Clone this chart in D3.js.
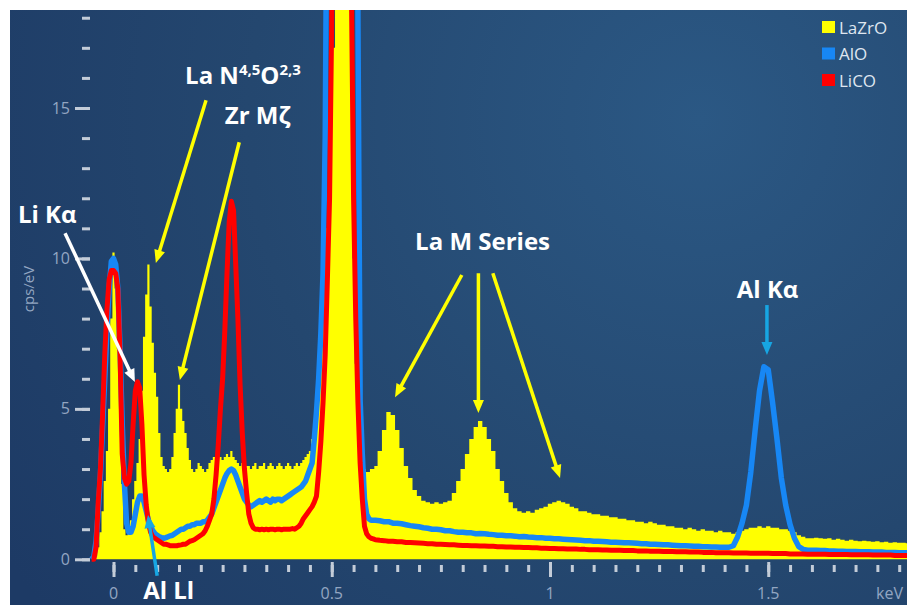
<!DOCTYPE html>
<html><head><meta charset="utf-8">
<script src="https://cdn.jsdelivr.net/npm/d3@7"></script>
<style>html,body{margin:0;padding:0;background:#fff;}svg{display:block;}</style>
</head><body>
<svg id="c" width="907" height="605"></svg>
<script>
// ---------- DATA ----------
// channel energies (keV): fine grid at low energy, coarser above 0.6 keV
const energyLow = d3.range(131).map(i => +(-0.05 + i * 0.005).toFixed(3));
const energyHigh = d3.range(123).map(i => +(0.61 + i * 0.01).toFixed(2));

// LaZrO (yellow, filled) cps/eV
const lazroLow = [
  0, 0, 0.1, 0.4, 0.9, 1.6, 2.6, 3.6, 5.0, 8.0,
  10.2, 9.0, 7.0, 5.0, 2.5, 1.0, 0.8, 0.9, 1.3, 2.0,
  2.6, 3.2, 4.0, 5.6, 7.4, 8.8, 9.8, 8.4, 7.2, 6.2,
  5.4, 4.2, 3.4, 3.1, 3.0, 2.9, 3.0, 3.4, 4.2, 5.0,
  5.8, 5.0, 4.6, 4.2, 3.7, 3.3, 3.0, 2.9, 3.0, 3.2,
  3.1, 3.0, 2.9, 3.0, 3.2, 3.3, 3.4, 3.3, 3.5, 3.4,
  3.3, 3.4, 3.5, 3.4, 3.6, 3.4, 3.3, 3.2, 3.1, 3.2,
  3.0, 3.1, 3.1, 3.0, 3.1, 3.2, 3.0, 3.1, 3.1, 3.2,
  3.0, 3.1, 3.2, 3.1, 3.0, 3.1, 3.2, 3.1, 3.0, 3.1,
  3.2, 3.1, 3.0, 3.1, 3.2, 3.1, 3.2, 3.3, 3.4, 3.5,
  3.6, 4.0, 4.6, 5.4, 6.4, 7.6, 9.0, 10, 11, 13,
  15, 17, 25, 40, 40, 40, 40, 40, 25, 18,
  10, 6.5, 4.8, 3.6, 3.1, 3.0, 2.9, 2.9, 3.0, 3.0,
  3.1
];
const lazroHigh = [
  3.6, 4.3, 4.9, 4.8, 4.3, 3.7, 3.1, 2.7, 2.3, 2.1,
  1.95, 1.9, 1.85, 1.9, 1.85, 1.9, 1.95, 2.2, 2.6, 3.0,
  3.5, 4.0, 4.4, 4.6, 4.4, 4.0, 3.6, 3.0, 2.6, 2.2,
  1.9, 1.7, 1.6, 1.55, 1.6, 1.55, 1.65, 1.7, 1.75, 1.85,
  1.9, 1.95, 1.9, 1.85, 1.75, 1.7, 1.6, 1.6, 1.55, 1.5,
  1.5, 1.45, 1.45, 1.4, 1.4, 1.35, 1.35, 1.3, 1.3, 1.25,
  1.25, 1.2, 1.25, 1.2, 1.15, 1.15, 1.1, 1.1, 1.05, 1.05,
  1.0, 1.05, 1.0, 0.95, 1.0, 0.95, 0.95, 0.9, 0.95, 0.9,
  0.9, 0.85, 0.9, 0.95, 1.0, 1.05, 1.05, 1.1, 1.05, 1.1,
  1.05, 1.05, 1.0, 1.0, 0.95, 0.9, 0.8, 0.75, 0.7, 0.7,
  0.72, 0.7, 0.68, 0.7, 0.65, 0.68, 0.65, 0.62, 0.65, 0.62,
  0.6, 0.62, 0.6, 0.58, 0.6, 0.57, 0.58, 0.55, 0.57, 0.55,
  0.55, 0.53, 0.55
];

// AlO (blue line)
const aloLow = [
  0, 0.1, 0.6, 1.6, 2.8, 4.4, 6.0, 7.6, 9.0, 9.9,
  10.0, 9.8, 9.0, 7.0, 4.5, 2.5, 1.2, 0.9, 0.9, 1.1,
  1.5, 1.9, 2.1, 2.1, 1.9, 1.6, 1.3, 1.1, 0.95, 0.85,
  0.8, 0.75, 0.72, 0.7, 0.72, 0.75, 0.78, 0.8, 0.85, 0.9,
  0.95, 1.0, 1.0, 1.05, 1.1, 1.1, 1.15, 1.15, 1.2, 1.2,
  1.2, 1.25, 1.25, 1.3, 1.4, 1.5, 1.7, 1.9, 2.1, 2.3,
  2.5, 2.7, 2.85, 2.95, 3.0, 2.95, 2.8, 2.6, 2.4, 2.2,
  2.0, 1.9, 1.8, 1.75, 1.8, 1.85, 1.9, 1.95, 1.9, 1.95,
  2.0, 1.95, 1.9, 2.0, 1.95, 2.0, 2.0, 1.95, 2.0, 2.05,
  2.1, 2.15, 2.2, 2.25, 2.3, 2.35, 2.4, 2.5, 2.6, 2.8,
  3.0, 3.2, 4.0, 4.9, 6.0, 7.5, 9.5, 14, 25, 35,
  45, 50, 50, 50, 50, 50, 50, 50, 50, 45,
  40, 35, 18, 5.3, 3.5, 2.0, 1.5, 1.35, 1.3, 1.3,
  1.3
];
const aloHigh = [
  1.28, 1.25, 1.25, 1.2, 1.2, 1.18, 1.15, 1.12, 1.1, 1.08,
  1.05, 1.03, 1.0, 1.0, 0.98, 0.95, 0.95, 0.92, 0.9, 0.9,
  0.88, 0.88, 0.85, 0.86, 0.85, 0.83, 0.82, 0.8, 0.8, 0.78,
  0.78, 0.77, 0.75, 0.76, 0.74, 0.73, 0.72, 0.72, 0.7, 0.7,
  0.68, 0.68, 0.67, 0.66, 0.65, 0.64, 0.63, 0.62, 0.62, 0.6,
  0.6, 0.59, 0.58, 0.57, 0.57, 0.56, 0.55, 0.55, 0.54, 0.53,
  0.52, 0.52, 0.5, 0.5, 0.49, 0.48, 0.48, 0.47, 0.46, 0.45,
  0.45, 0.44, 0.43, 0.43, 0.42, 0.42, 0.41, 0.41, 0.4, 0.4,
  0.4, 0.45, 0.75, 1.2, 1.8, 2.9, 4.3, 5.6, 6.4, 6.3,
  5.2, 4.0, 2.7, 1.8, 1.15, 0.7, 0.42, 0.33, 0.3, 0.3,
  0.3, 0.29, 0.29, 0.28, 0.28, 0.27, 0.27, 0.26, 0.26, 0.26,
  0.25, 0.25, 0.25, 0.24, 0.24, 0.24, 0.23, 0.23, 0.23, 0.22,
  0.22, 0.22, 0.22
];

// LiCO (red line)
const licoLow = [
  0, 0, 0.4, 1.9, 3.0, 4.8, 6.8, 8.3, 9.3, 9.6,
  9.6, 9.5, 9.0, 6.8, 3.5, 2.7, 2.5, 2.6, 3.2, 4.5,
  5.6, 5.9, 5.7, 4.5, 2.8, 1.8, 1.2, 0.9, 0.75, 0.7,
  0.65, 0.6, 0.55, 0.5, 0.5, 0.48, 0.45, 0.45, 0.45, 0.45,
  0.47, 0.48, 0.5, 0.5, 0.55, 0.6, 0.62, 0.65, 0.7, 0.75,
  0.8, 0.85, 0.95, 1.1, 1.3, 1.5, 2.0, 2.8, 3.8, 5.0,
  6.0, 7.6, 9.5, 11.2, 11.9, 11.6, 9.8, 8.0, 5.8, 4.2,
  3.0, 2.2, 1.5, 1.2, 1.05, 1.0, 1.0, 0.98, 1.0, 0.98,
  1.0, 0.98, 1.0, 1.0, 0.98, 1.0, 1.0, 0.98, 1.0, 1.0,
  1.0, 1.0, 1.02, 1.0, 1.05, 1.1, 1.2, 1.35, 1.45, 1.55,
  1.65, 1.75, 1.9, 2.1, 2.9, 3.9, 5.2, 6.8, 9.3, 12,
  18, 28, 40, 45, 45, 45, 45, 40, 30, 19,
  12, 8.0, 5.2, 3.2, 2.0, 1.1, 0.85, 0.75, 0.7, 0.68,
  0.65
];
const licoHigh = [
  0.63, 0.62, 0.6, 0.6, 0.58, 0.58, 0.56, 0.56, 0.55, 0.54,
  0.53, 0.52, 0.52, 0.5, 0.5, 0.49, 0.48, 0.48, 0.47, 0.46,
  0.46, 0.45, 0.45, 0.44, 0.44, 0.43, 0.43, 0.42, 0.42, 0.41,
  0.41, 0.4, 0.4, 0.39, 0.39, 0.38, 0.38, 0.37, 0.37, 0.36,
  0.36, 0.35, 0.35, 0.34, 0.34, 0.34, 0.33, 0.33, 0.32, 0.32,
  0.32, 0.31, 0.31, 0.3, 0.3, 0.3, 0.29, 0.29, 0.29, 0.28,
  0.28, 0.28, 0.27, 0.27, 0.27, 0.26, 0.26, 0.26, 0.25, 0.25,
  0.25, 0.24, 0.24, 0.24, 0.23, 0.23, 0.23, 0.22, 0.22, 0.22,
  0.22, 0.21, 0.21, 0.21, 0.21, 0.2, 0.2, 0.2, 0.2, 0.2,
  0.19, 0.19, 0.19, 0.19, 0.18, 0.18, 0.18, 0.18, 0.17, 0.17,
  0.17, 0.17, 0.17, 0.16, 0.16, 0.16, 0.16, 0.16, 0.15, 0.15,
  0.15, 0.15, 0.15, 0.14, 0.14, 0.14, 0.14, 0.14, 0.13, 0.13,
  0.13, 0.13, 0.13
];

const seriesNames = ["LaZrO", "AlO", "LiCO"];
const yMinorTicks = d3.range(0, 19);
const yMajorTicks = [0, 5, 10, 15];
const xMinorTicks = d3.range(37).map(i => +(i * 0.05).toFixed(2));
const xMajorTicks = [0, 0.5, 1, 1.5];
const xUnitLabel = "keV";
const yUnitLabel = "cps/eV";

// annotations (in data units: keV, cps/eV)
const annotations = [
  {parts: [["Li Kα"]], e: -0.219, v: 11.17, color: "#ffffff",
   arrows: [[-0.111, 10.84, 0.049, 5.89]]},
  {parts: [["La N"], ["4,5", "sup"], ["O"], ["2,3", "sup"]], e: 0.164, v: 15.81, color: "#ffff00",
   arrows: [[0.212, 15.26, 0.097, 9.85]]},
  {parts: [["Zr Mζ"]], e: 0.255, v: 14.46, color: "#ffff00",
   arrows: [[0.288, 13.86, 0.152, 5.96]]},
  {parts: [["La M Series"]], e: 0.691, v: 10.28, color: "#ffff00",
   arrows: [[0.798, 9.45, 0.645, 5.39], [0.836, 9.51, 0.836, 4.86], [0.869, 9.51, 1.023, 2.70]]},
  {parts: [["Al Kα"]], e: 1.428, v: 8.68, color: "#17a6e3",
   arrows: [[1.497, 8.45, 1.497, 6.79]]},
  {parts: [["Al Ll"]], e: 0.068, v: -1.32, color: "#17a6e3",
   arrows: [[0.100, -0.55, 0.079, 1.47]]}
];

// ---------- DRAW ----------
const W = 907, H = 605;
const panel = {x0: 10, y0: 10, x1: 907, y1: 605};
const svg = d3.select("#c");
const FONT = "'Open Sans','Noto Sans',sans-serif";

const x = d3.scaleLinear().domain([0, 1.5]).range([113.5, 768.25]);
const y = d3.scaleLinear().domain([0, 15]).range([559.3, 108]);

const defs = svg.append("defs");
const rg = defs.append("radialGradient").attr("id", "bg")
  .attr("gradientUnits", "userSpaceOnUse")
  .attr("cx", 700).attr("cy", 120).attr("r", 820);
rg.append("stop").attr("offset", 0).attr("stop-color", "#2b5884");
rg.append("stop").attr("offset", 0.55).attr("stop-color", "#24476f");
rg.append("stop").attr("offset", 1).attr("stop-color", "#1d3a65");
defs.append("clipPath").attr("id", "plotclip").append("rect")
  .attr("x", panel.x0).attr("y", panel.y0).attr("width", W - panel.x0).attr("height", 565 - panel.y0);

svg.append("rect").attr("width", W).attr("height", H).attr("fill", "#ffffff");
svg.append("rect").attr("x", panel.x0).attr("y", panel.y0)
  .attr("width", panel.x1 - panel.x0).attr("height", panel.y1 - panel.y0).attr("fill", "url(#bg)");

function build(eL, vL, eH, vH) {
  const a = eL.slice(0, Math.min(eL.length, vL.length)).map((e, i) => [e, vL[i]]);
  const b = eH.slice(0, Math.min(eH.length, vH.length)).map((e, i) => [e, vH[i]]);
  return a.concat(b);
}
const lazro = build(energyLow, lazroLow, energyHigh, lazroHigh);
const alo = build(energyLow, aloLow, energyHigh, aloHigh);
const lico = build(energyLow, licoLow, energyHigh, licoHigh);

const colors = {LaZrO: "#ffff00", AlO: "#1787f5", LiCO: "#ff0000"};

const plot = svg.append("g").attr("clip-path", "url(#plotclip)");
plot.append("path").datum(lazro)
  .attr("fill", colors.LaZrO)
  .attr("d", d3.area().curve(d3.curveStep).x(d => x(d[0])).y0(y(0)).y1(d => y(d[1])));
const line = d3.line().x(d => x(d[0])).y(d => y(d[1]));
plot.append("path").datum(alo).attr("fill", "none").attr("stroke", colors.AlO)
  .attr("stroke-width", 5.5).attr("stroke-linejoin", "round").attr("d", line);
plot.append("path").datum(lico).attr("fill", "none").attr("stroke", colors.LiCO)
  .attr("stroke-width", 5).attr("stroke-linejoin", "round").attr("d", line);

// axes
const tickColor = "#c3ccd8", labelColor = "#93a6c2";
function styleAxis(g) {
  g.select(".domain").remove();
  g.selectAll(".tick line").attr("stroke", tickColor).attr("stroke-width", 3);
  g.selectAll(".tick text").attr("fill", labelColor).attr("font-family", FONT).attr("font-size", 16);
}
svg.append("g").attr("transform", "translate(90,0)")
  .call(d3.axisLeft(y).tickValues(yMinorTicks).tickSize(8).tickFormat(""))
  .call(styleAxis);
svg.append("g").attr("transform", "translate(90,0)")
  .call(d3.axisLeft(y).tickValues(yMajorTicks).tickSize(15).tickPadding(5).tickFormat(d3.format("d")))
  .call(styleAxis);

svg.append("g").attr("transform", "translate(0,565)")
  .call(d3.axisBottom(x).tickValues(xMinorTicks).tickSize(7).tickFormat(""))
  .call(styleAxis);
svg.append("g").attr("transform", "translate(0,562)")
  .call(d3.axisBottom(x).tickValues(xMajorTicks).tickSize(15).tickFormat(""))
  .call(styleAxis);
svg.append("g").selectAll("text").data(xMajorTicks).join("text")
  .attr("x", d => x(d)).attr("y", 599).attr("text-anchor", "middle")
  .attr("fill", labelColor).attr("font-family", FONT).attr("font-size", 16)
  .text(d => d3.format("~g")(d));
svg.append("text").attr("x", 903).attr("y", 599).attr("text-anchor", "end")
  .attr("fill", labelColor).attr("font-family", FONT).attr("font-size", 16).text(xUnitLabel);
svg.append("text").attr("transform", "translate(34,289) rotate(-90)").attr("text-anchor", "middle")
  .attr("fill", labelColor).attr("font-family", FONT).attr("font-size", 15).text(yUnitLabel);

// legend
const lg = svg.append("g").attr("transform", "translate(822,21)");
seriesNames.forEach((n, i) => {
  lg.append("rect").attr("x", 0).attr("y", i * 26.5).attr("width", 13).attr("height", 12).attr("fill", colors[n]);
  lg.append("text").attr("x", 17).attr("y", i * 26.5 + 12.5).attr("fill", "#dfe6f0")
    .attr("font-family", FONT).attr("font-size", 17).text(n);
});

// annotations
const ag = svg.append("g");
function arrow(g, e0, v0, e1, v1, color) {
  const p0 = [x(e0), y(v0)], p1 = [x(e1), y(v1)];
  const dx = p1[0] - p0[0], dy = p1[1] - p0[1], len = Math.hypot(dx, dy);
  const ux = dx / len, uy = dy / len, nx = -uy, ny = ux;
  const L = 13, Wd = 11;
  const bx = p1[0] - ux * L, by = p1[1] - uy * L;
  g.append("line").attr("x1", p0[0]).attr("y1", p0[1]).attr("x2", bx + ux).attr("y2", by + uy)
    .attr("stroke", color).attr("stroke-width", 3.5);
  g.append("path").attr("fill", color)
    .attr("d", `M${p1[0]},${p1[1]}L${bx + nx * Wd / 2},${by + ny * Wd / 2}L${bx - nx * Wd / 2},${by - ny * Wd / 2}Z`);
}
annotations.forEach(a => {
  const t = ag.append("text").attr("x", x(a.e)).attr("y", y(a.v))
    .attr("fill", "#ffffff").attr("font-family", FONT).attr("font-weight", 700).attr("font-size", 24);
  let raised = false;
  a.parts.forEach(p => {
    const s = t.append("tspan").text(p[0]);
    if (p[1] === "sup") { s.attr("font-size", 15).attr("dy", raised ? 0 : -9); raised = true; }
    else { if (raised) s.attr("dy", 9); raised = false; }
  });
  a.arrows.forEach(r => arrow(ag, r[0], r[1], r[2], r[3], a.color));
});
</script>
</body></html>
